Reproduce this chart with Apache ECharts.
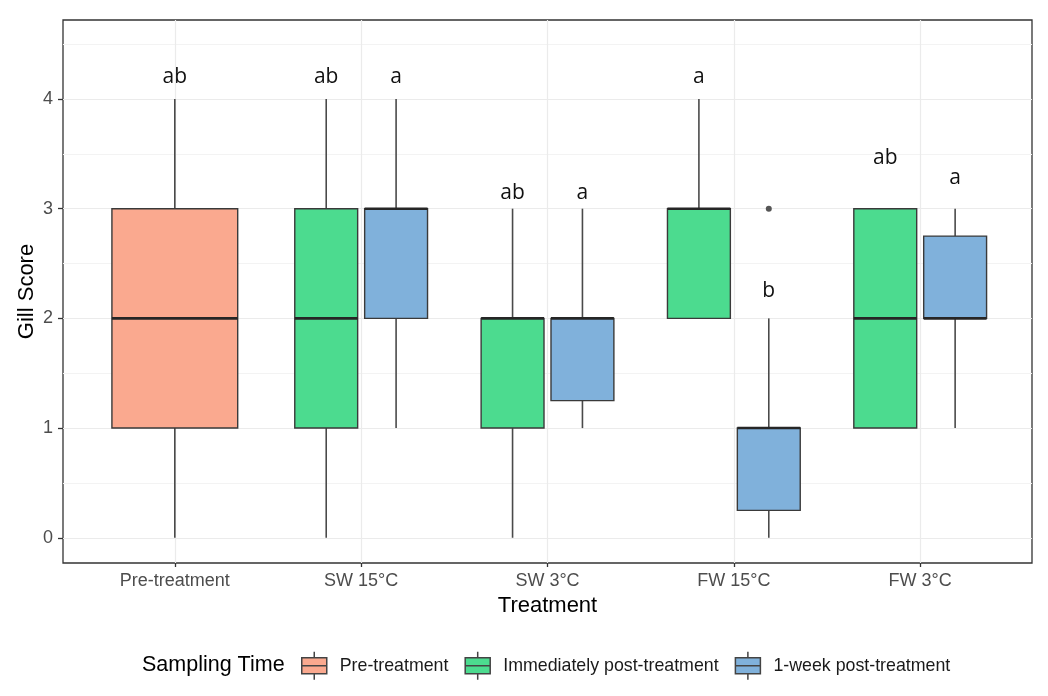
<!DOCTYPE html>
<html><head><meta charset="utf-8">
<script src="https://cdn.jsdelivr.net/npm/echarts@6/dist/echarts.min.js"></script>
<style>html,body{margin:0;padding:0;background:#fff}#c{width:1048px;height:696px}</style>
</head><body><div id="c"></div>
<script>
const categories = ['Pre-treatment', 'SW 15°C', 'SW 3°C', 'FW 15°C', 'FW 3°C'];
const groupNames = ['Pre-treatment', 'Immediately post-treatment', '1-week post-treatment'];
const groupColors = ['#FAA98F', '#4CDB8F', '#80B1DB'];
const yTicks = [0, 1, 2, 3, 4];
const yMinor = [0.5, 1.5, 2.5, 3.5, 4.5];
// [categoryIndex, min, q1, median, q3, max]
const preBoxes = [[0, 0, 1, 2, 3, 4]];
const immBoxes = [[1, 0, 1, 2, 3, 4], [2, 0, 1, 2, 2, 3], [3, 2, 2, 3, 3, 4], [4, 1, 1, 2, 3, 3]];
const weekBoxes = [[1, 1, 2, 3, 3, 4], [2, 1, 1.25, 2, 2, 3], [3, 0, 0.25, 1, 1, 2], [4, 1, 2, 2, 2.75, 3]];
// [categoryIndex, value]
const weekOutliers = [[3, 3]];
const preLetters = ['ab'];
const preLetterY = [4.2];
const immLetters = ['ab', 'ab', 'a', 'ab'];
const immLetterY = [4.2, 3.14, 4.2, 3.46];
const weekLetters = ['a', 'a', 'b', 'a'];
const weekLetterY = [4.2, 3.14, 2.25, 3.28];

const DODGE = 0.1875, HALF_SINGLE = 0.3375, HALF_DODGE = 0.16875;

function makeRender(letters, letterY, offset, halfW, outliers, color) {
  return function (params, api) {
    const i = params.dataIndex;
    const cat = api.value(0);
    const x = cat + 1 + offset;
    const lo = api.value(1), q1 = api.value(2), med = api.value(3), q3 = api.value(4), hi = api.value(5);
    const pTL = api.coord([x - halfW, q3]);
    const pBR = api.coord([x + halfW, q1]);
    const xc = api.coord([x, 0])[0];
    const yLo = api.coord([x, lo])[1], yHi = api.coord([x, hi])[1], yMed = api.coord([x, med])[1];
    const yQ1 = pBR[1], yQ3 = pTL[1];
    const wStyle = { stroke: '#4a4a4a', lineWidth: 1.6 };
    const children = [];
    if (hi > q3) children.push({ type: 'line', shape: { x1: xc, y1: yHi, x2: xc, y2: yQ3 }, style: wStyle });
    if (lo < q1) children.push({ type: 'line', shape: { x1: xc, y1: yQ1, x2: xc, y2: yLo }, style: wStyle });
    children.push({ type: 'rect', shape: { x: pTL[0], y: yQ3, width: pBR[0] - pTL[0], height: yQ1 - yQ3 },
      style: { fill: color, stroke: '#3a3a3a', lineWidth: 1.4 } });
    children.push({ type: 'line', shape: { x1: pTL[0], y1: yMed, x2: pBR[0], y2: yMed },
      style: { stroke: '#262626', lineWidth: 2.6 } });
    (outliers || []).forEach(function (o) {
      if (o[0] === cat) {
        const p = api.coord([x, o[1]]);
        children.push({ type: 'circle', shape: { cx: p[0], cy: p[1], r: 3 }, style: { fill: '#555' } });
      }
    });
    const pt = api.coord([x, letterY[i]]);
    children.push({ type: 'text', style: { text: letters[i], x: pt[0], y: pt[1], align: 'center', verticalAlign: 'middle',
      fontSize: 21, fontFamily: 'Open Sans', fill: '#111' } });
    return { type: 'group', children: children };
  };
}

const boxIcon = 'path://M12.5,0L12.5,6M0,6L25,6L25,22L0,22ZM0,14L25,14M12.5,22L12.5,28';

const chart = echarts.init(document.getElementById('c'));
chart.setOption({
  backgroundColor: '#fff',
  animation: false,
  grid: { left: 63, right: 16, top: 20, bottom: 133, show: true, borderColor: '#333', borderWidth: 1.3, backgroundColor: 'transparent' },
  xAxis: {
    type: 'value', min: 0.4, max: 5.6,
    name: 'Treatment', nameLocation: 'middle', nameGap: 32, nameMoveOverlap: false,
    nameTextStyle: { fontSize: 22, fontFamily: 'Liberation Sans', color: '#000' },
    axisLine: { show: false, onZero: false },
    axisTick: { show: true, length: 4, customValues: [1, 2, 3, 4, 5], lineStyle: { color: '#333', width: 1.3 } },
    axisLabel: { customValues: [1, 2, 3, 4, 5], margin: 9, fontSize: 18, fontFamily: 'Liberation Sans', color: '#4D4D4D',
      formatter: function (v) { return categories[Math.round(v) - 1] || ''; } },
    splitLine: { show: true, lineStyle: { color: '#EBEBEB', width: 1.2 } }
  },
  yAxis: [{
    type: 'value', min: -0.23, max: 4.72,
    name: 'Gill Score', nameLocation: 'middle', nameGap: 25, nameMoveOverlap: false,
    nameTextStyle: { fontSize: 22, fontFamily: 'Liberation Sans', color: '#000' },
    axisLine: { show: false, onZero: false },
    axisTick: { show: true, length: 5, customValues: yTicks, lineStyle: { color: '#333', width: 1.3 } },
    axisLabel: { customValues: yTicks, margin: 10, fontSize: 18, fontFamily: 'Liberation Sans', color: '#4D4D4D' },
    splitLine: { show: true, lineStyle: { color: '#EBEBEB', width: 1.2 } }
  }, {
    type: 'value', min: -0.23, max: 4.72, position: 'left',
    axisLine: { show: false, onZero: false }, axisLabel: { show: false },
    axisTick: { show: false, customValues: yMinor },
    splitLine: { show: true, lineStyle: { color: '#F3F3F3', width: 1 } }
  }],
  legend: {
    left: 301, top: 651, padding: 0, orient: 'horizontal', itemWidth: 25, itemHeight: 28, itemGap: 16,
    selectedMode: false, icon: boxIcon, data: groupNames,
    textStyle: { fontSize: 17.8, fontFamily: 'Liberation Sans', color: '#1a1a1a', padding: [0, 0, 0, 8] },
    itemStyle: { borderColor: '#444', borderWidth: 1.5 }
  },
  graphic: [{ type: 'text', left: 142, top: 654, style: { text: 'Sampling Time', fontSize: 21.5, fontFamily: 'Liberation Sans', fill: '#000' } }],
  series: [
    { name: groupNames[0], type: 'custom', itemStyle: { color: groupColors[0] }, data: preBoxes,
      encode: { x: 0, y: [1, 2, 3, 4, 5] },
      renderItem: makeRender(preLetters, preLetterY, 0, HALF_SINGLE, [], groupColors[0]) },
    { name: groupNames[1], type: 'custom', itemStyle: { color: groupColors[1] }, data: immBoxes,
      encode: { x: 0, y: [1, 2, 3, 4, 5] },
      renderItem: makeRender(immLetters, immLetterY, -DODGE, HALF_DODGE, [], groupColors[1]) },
    { name: groupNames[2], type: 'custom', itemStyle: { color: groupColors[2] }, data: weekBoxes,
      encode: { x: 0, y: [1, 2, 3, 4, 5] },
      renderItem: makeRender(weekLetters, weekLetterY, DODGE, HALF_DODGE, weekOutliers, groupColors[2]) }
  ]
});
</script></body></html>
